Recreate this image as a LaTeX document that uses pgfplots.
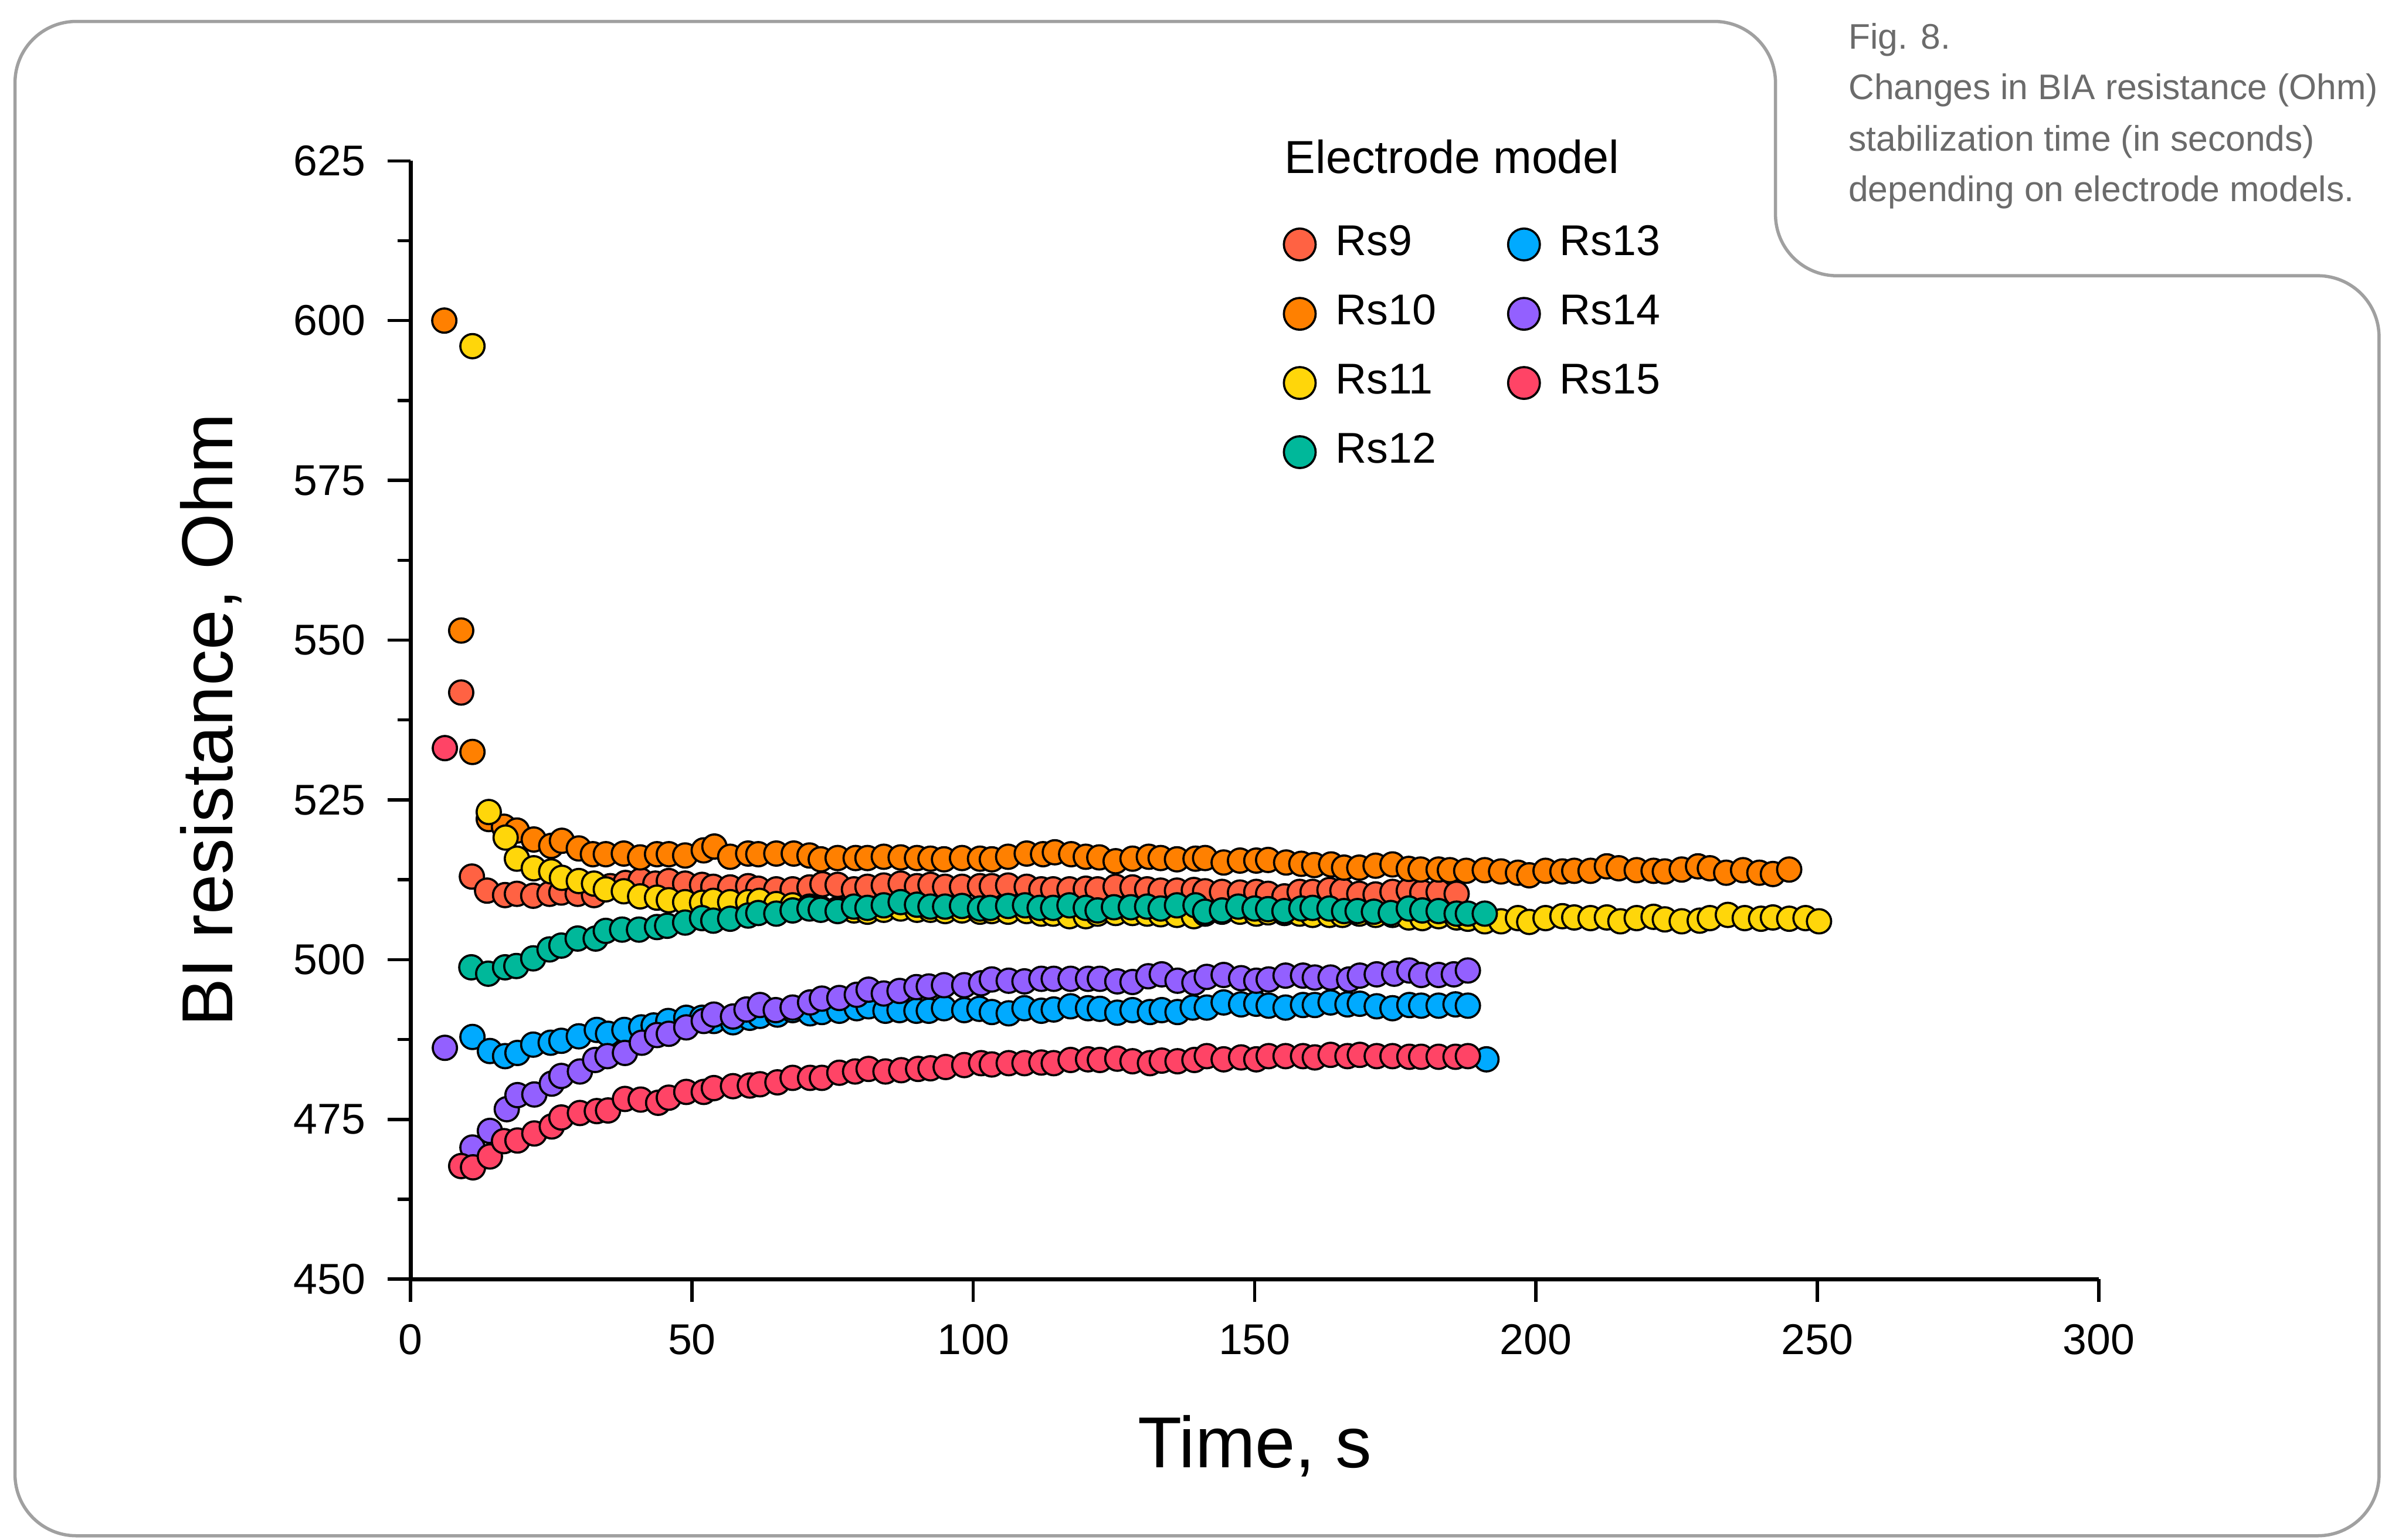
\documentclass[border=0pt]{standalone}
\usepackage{fontspec}
\setmainfont{Liberation Sans}
\usepackage{pgfplots}
\pgfplotsset{compat=1.18}
\definecolor{c9}{HTML}{FF6243}
\definecolor{c10}{HTML}{FF8000}
\definecolor{c11}{HTML}{FFD60A}
\definecolor{c12}{HTML}{00B89A}
\definecolor{c13}{HTML}{00AAFF}
\definecolor{c14}{HTML}{9360FF}
\definecolor{c15}{HTML}{FF4466}
\definecolor{framegray}{HTML}{A0A0A0}
\definecolor{capgray}{HTML}{6B6B6B}
\begin{document}
\begin{tikzpicture}[x=1cm,y=1cm]
\useasboundingbox (0,0) rectangle (15.68,10.05);
\draw[color=framegray, line width=0.6pt, rounded corners=0.4cm]
  (0.098,0.025) -- (0.098,9.91) -- (11.59,9.91) -- (11.59,8.25) -- (15.53,8.25) -- (15.53,0.025) -- cycle;
\begin{scope}[every node/.style={inner sep=0pt, anchor=base west, text=capgray, font=\fontsize{6.6}{7.9}\selectfont}]
\node at (12.06,9.732) {Fig. 8.};
\node at (12.06,9.401) {Changes in BIA resistance (Ohm)};
\node at (12.06,9.065) {stabilization time (in seconds)};
\node at (12.06,8.734) {depending on electrode models.};
\end{scope}
\node[inner sep=0pt, anchor=base west, font=\fontsize{8.6}{10}\selectfont] at (8.38,8.92) {Electrode model};
\begin{axis}[
  at={(2.68cm,1.70cm)}, anchor=south west,
  scale only axis, width=11.02cm, height=7.30cm,
  xmin=0, xmax=300, ymin=450, ymax=625,
  axis x line*=bottom, axis y line*=left,
  axis line style={line width=0.75pt, black},
  xtick={0,50,...,300}, ytick={450,475,...,625},
  minor y tick num=1,
  tick align=outside,
  major tick length=0.15cm, minor tick length=0.085cm,
  tick style={line width=0.6pt, black},
  /pgf/number format/assume math mode=true,
  /pgf/number format/1000 sep={},
  ticklabel style={font=\fontsize{8}{9.6}\selectfont},
  xticklabel style={yshift=-0.02cm},
  yticklabel style={xshift=-0.02cm},
  xlabel={Time, s},
  ylabel={BI resistance, Ohm},
  label style={font=\fontsize{13.4}{16}\selectfont},
  xlabel style={at={(axis description cs:0.5,-0.1685)}, anchor=base},
  ylabel style={at={(axis description cs:-0.1053,0.5)}, anchor=base},
  clip=false,
  legend columns=2,
  legend cell align=left,
  legend image code/.code={\draw[#1] plot coordinates {(0.11cm,0cm)};},
  legend style={draw=none, fill=none, inner sep=0pt, outer sep=0pt,
    at={(axis cs:155.2,614.9)}, anchor=north west,
    font=\fontsize{8}{9.6}\selectfont,
    nodes={inner sep=0pt},
    row sep=5.8pt, column sep=0.13cm,
    /tikz/every even column/.append style={column sep=0.47cm}},
  every axis plot/.append style={only marks, mark=*, mark size=2.25pt, forget plot},
]
\addplot[mark options={fill=c9, draw=black, line width=0.4pt}] coordinates {
(9.0,541.8) (10.9,513.0) (13.6,510.8) (16.8,510.1) (18.9,510.3) (21.8,510.0) (24.7,510.3) (26.8,510.5) (29.7,510.3) (32.6,510.1) (35.5,511.5) (38.2,512.0) (40.9,512.4) (43.5,511.9) (45.9,512.3) (48.8,511.9) (51.8,511.7) (53.8,511.4) (56.8,511.3) (60.0,511.5) (61.8,511.1) (65.0,511.0) (67.9,511.0) (70.9,511.3) (73.2,511.8) (75.9,511.7) (78.8,511.0) (81.2,511.4) (84.1,511.6) (87.1,511.9) (90.0,511.5) (92.4,511.7) (95.0,511.4) (98.0,511.4) (101.2,511.5) (103.3,511.5) (106.2,511.6) (109.5,511.4) (112.1,511.0) (114.2,511.0) (117.1,511.0) (120.0,511.1) (122.1,511.0) (125.3,511.4) (128.3,511.3) (130.9,511.0) (133.3,510.8) (136.2,510.8) (139.2,510.9) (141.2,510.7) (144.2,510.6) (147.4,510.5) (150.3,510.6) (152.4,510.3) (155.3,509.9) (158.0,510.6) (160.3,510.6) (163.3,510.9) (165.6,510.8) (168.6,510.3) (171.5,510.2) (174.5,510.6) (177.4,510.8) (179.8,510.5) (182.7,510.6) (185.9,510.3)
};
\addplot[mark options={fill=c10, draw=black, line width=0.4pt}] coordinates {
(6.0,600.0) (9.0,551.5) (11.0,532.5) (13.9,522.0) (16.6,520.8) (18.9,520.2) (21.9,518.8) (25.0,517.8) (26.9,518.6) (29.9,517.4) (32.4,516.5) (34.7,516.5) (37.9,516.6) (40.8,516.0) (43.8,516.5) (45.9,516.5) (48.8,516.3) (52.1,517.1) (54.0,517.7) (56.8,516.1) (60.0,516.6) (61.8,516.5) (65.0,516.6) (68.1,516.6) (70.9,516.3) (72.9,515.7) (75.9,515.9) (79.1,515.9) (81.2,515.9) (84.1,516.1) (87.1,516.0) (90.0,515.9) (92.4,515.8) (94.8,515.7) (98.0,515.9) (101.2,515.8) (103.3,515.7) (106.2,516.1) (109.5,516.6) (112.4,516.5) (114.5,516.8) (117.4,516.5) (120.0,516.1) (122.4,516.0) (125.3,515.4) (128.3,515.8) (131.2,516.1) (133.3,515.9) (136.2,515.7) (139.5,515.8) (141.2,515.9) (144.5,515.2) (147.4,515.5) (150.3,515.5) (152.4,515.6) (155.6,515.2) (158.3,515.0) (160.6,514.8) (163.6,514.9) (165.9,514.4) (168.6,514.4) (171.5,514.7) (174.5,514.9) (177.4,514.2) (179.5,514.1) (182.7,514.1) (184.7,514.0) (187.6,513.9) (190.9,514.0) (193.8,513.8) (196.8,513.6) (198.8,513.2) (201.7,513.9) (204.7,513.8) (206.8,513.9) (209.7,513.9) (212.6,514.6) (214.7,514.3) (217.9,514.0) (220.9,513.9) (222.9,513.8) (225.9,514.1) (228.8,514.6) (230.9,514.3) (233.8,513.6) (236.8,514.0) (239.7,513.6) (242.1,513.4) (245.0,514.1)
};
\addplot[mark options={fill=c11, draw=black, line width=0.4pt}] coordinates {
(11.0,596.0) (13.9,523.1) (16.9,519.1) (18.9,515.8) (21.9,514.3) (25.0,513.8) (26.9,512.8) (29.9,512.3) (32.6,511.9) (34.7,511.0) (37.9,510.7) (40.8,509.9) (43.8,509.7) (45.9,509.3) (48.8,509.0) (51.8,508.9) (53.8,509.2) (56.8,509.0) (60.0,509.0) (62.0,509.2) (65.0,508.7) (67.9,508.5) (70.9,508.3) (72.9,508.0) (75.9,507.9) (78.8,507.7) (81.2,507.5) (84.1,507.8) (87.1,508.0) (90.0,507.8) (92.4,507.8) (95.0,507.6) (98.0,507.7) (101.2,507.5) (103.3,507.6) (106.2,507.5) (109.5,507.6) (112.1,507.2) (114.2,507.2) (117.1,506.8) (120.0,506.8) (122.1,507.2) (125.3,507.3) (128.3,507.3) (130.9,507.2) (133.3,507.1) (136.2,507.0) (139.2,506.8) (141.2,507.2) (144.2,507.5) (147.4,507.5) (150.3,507.2) (152.4,507.4) (155.3,507.3) (158.0,507.2) (160.3,507.0) (163.3,507.0) (165.6,507.0) (168.6,507.2) (171.5,507.0) (174.5,507.0) (177.4,506.6) (179.8,506.5) (182.7,506.8) (185.9,506.6) (187.9,506.4) (190.9,506.0) (193.8,506.0) (196.8,506.5) (198.8,505.9) (201.7,506.5) (204.7,506.8) (206.8,506.6) (209.7,506.5) (212.6,506.6) (215.0,506.0) (217.9,506.5) (220.9,506.7) (222.9,506.3) (225.9,506.0) (229.1,506.1) (230.9,506.5) (234.1,507.0) (237.1,506.5) (240.0,506.4) (242.1,506.6) (245.0,506.4) (247.9,506.5) (250.3,506.0)
};
\addplot[mark options={fill=c12, draw=black, line width=0.4pt}] coordinates {
(10.8,498.8) (13.8,497.8) (16.8,498.8) (18.8,499.0) (21.8,500.2) (24.7,501.6) (26.8,502.2) (29.7,503.3) (32.9,503.3) (34.7,504.5) (37.6,504.7) (40.6,504.7) (43.8,505.1) (45.6,505.3) (48.8,505.8) (51.8,506.5) (53.8,506.1) (56.8,506.4) (60.0,506.9) (61.8,507.3) (65.0,507.2) (67.9,507.7) (70.9,508.0) (72.9,507.8) (75.9,507.6) (78.8,508.3) (81.2,508.1) (84.1,508.5) (87.1,509.0) (90.0,508.6) (92.4,508.3) (95.0,508.3) (98.0,508.4) (101.2,508.0) (103.0,508.1) (106.2,508.4) (109.2,508.5) (111.8,508.1) (114.2,508.1) (117.1,508.5) (120.0,508.1) (122.1,507.7) (125.0,508.2) (128.0,508.2) (130.9,508.3) (133.3,508.0) (136.2,508.5) (139.5,508.5) (141.2,507.5) (144.2,507.7) (147.1,508.3) (150.0,508.0) (152.4,507.9) (155.3,507.6) (158.3,508.0) (160.3,508.1) (163.3,508.0) (165.9,507.6) (168.3,507.6) (171.2,507.5) (174.2,507.3) (177.4,508.0) (179.8,507.7) (182.7,507.6) (185.9,507.2) (187.9,507.2) (190.9,507.2)
};
\addplot[mark options={fill=c13, draw=black, line width=0.4pt}] coordinates {
(11.0,487.9) (14.1,485.7) (16.8,484.9) (19.0,485.4) (21.8,486.7) (24.9,487.0) (26.8,487.3) (29.9,488.0) (33.1,489.0) (35.1,488.4) (38.0,489.0) (41.0,489.4) (43.2,489.7) (45.8,490.4) (49.0,490.9) (51.8,490.9) (53.9,490.4) (57.3,490.2) (60.3,490.9) (62.1,491.2) (65.2,491.4) (67.9,492.1) (71.0,491.6) (73.1,491.8) (76.2,492.0) (79.3,492.4) (81.4,492.7) (84.4,492.0) (86.9,492.1) (89.9,492.0) (92.1,492.0) (94.8,492.4) (98.4,492.1) (101.1,492.3) (103.3,491.8) (106.3,491.6) (109.1,492.4) (112.1,492.0) (114.3,492.2) (117.3,492.7) (120.4,492.4) (122.5,492.3) (125.6,491.7) (128.3,492.1) (131.4,491.8) (133.5,492.1) (136.3,491.8) (139.0,492.5) (141.5,492.5) (144.5,493.3) (147.6,493.0) (150.3,493.1) (152.5,492.8) (155.5,492.5) (158.6,492.9) (160.7,492.9) (163.5,493.3) (166.5,493.0) (168.7,493.1) (171.7,492.7) (174.5,492.4) (177.5,492.9) (179.6,492.8) (182.7,492.8) (185.7,493.0) (187.9,492.8) (191.2,484.4)
};
\addplot[mark options={fill=c14, draw=black, line width=0.4pt}] coordinates {
(6.1,486.2) (11.0,470.6) (14.1,473.2) (17.1,476.6) (19.0,478.8) (22.0,478.9) (25.1,480.6) (26.8,481.8) (30.1,482.5) (32.8,484.3) (35.0,484.9) (38.1,485.4) (41.1,487.0) (43.8,488.2) (45.9,488.4) (49.0,489.4) (52.1,490.4) (53.9,491.4) (57.3,491.1) (59.7,492.2) (62.1,492.9) (64.9,492.1) (67.9,492.5) (71.0,493.3) (73.1,493.9) (76.2,494.0) (79.3,494.5) (81.4,495.3) (84.1,494.7) (86.9,495.1) (89.9,495.7) (92.1,495.8) (94.8,496.0) (98.4,496.0) (101.4,496.3) (103.3,496.9) (106.3,496.7) (109.1,496.6) (112.1,497.0) (114.3,497.0) (117.3,497.0) (120.4,497.0) (122.5,497.0) (125.6,496.6) (128.3,496.5) (131.1,497.4) (133.5,497.7) (136.3,496.7) (139.3,496.4) (141.5,497.3) (144.5,497.6) (147.6,497.1) (150.3,496.7) (152.5,496.9) (155.5,497.5) (158.6,497.5) (160.7,497.2) (163.5,497.2) (166.8,496.9) (168.7,497.5) (171.7,497.7) (174.8,497.8) (177.5,498.3) (179.6,497.6) (182.7,497.6) (185.4,497.7) (187.9,498.3)
};
\addplot[mark options={fill=c15, draw=black, line width=0.4pt}] coordinates {
(6.1,533.1) (9.0,467.7) (11.1,467.5) (14.1,469.2) (16.6,471.6) (19.0,471.7) (22.0,472.8) (25.1,473.9) (26.8,475.3) (30.1,476.0) (33.1,476.3) (35.1,476.4) (38.1,478.2) (40.9,478.1) (44.0,477.6) (45.9,478.4) (49.0,479.3) (52.1,479.3) (53.9,479.9) (57.3,480.2) (60.3,480.3) (62.1,480.5) (65.2,480.8) (67.9,481.5) (71.0,481.5) (73.1,481.5) (76.2,482.3) (79.0,482.5) (81.4,482.9) (84.4,482.5) (87.2,482.7) (90.2,482.9) (92.4,483.0) (95.1,483.2) (98.4,483.5) (101.4,483.8) (103.3,483.6) (106.3,483.8) (109.1,483.8) (112.1,483.9) (114.3,483.8) (117.3,484.3) (120.4,484.4) (122.5,484.3) (125.6,484.5) (128.3,484.1) (131.4,483.8) (133.5,484.2) (136.3,484.1) (139.3,484.3) (141.5,484.9) (144.5,484.4) (147.6,484.7) (150.3,484.4) (152.5,484.9) (155.5,484.9) (158.6,484.9) (160.7,484.7) (163.5,485.1) (166.5,484.9) (168.7,485.1) (171.7,484.9) (174.5,484.9) (177.5,484.8) (179.6,484.8) (182.7,484.8) (185.7,484.8) (187.9,484.9)
};
\addlegendimage{mark=*, mark size=2.95pt, mark options={fill=c9, draw=black, line width=0.4pt}}
\addlegendentry{Rs9}
\addlegendimage{mark=*, mark size=2.95pt, mark options={fill=c13, draw=black, line width=0.4pt}}
\addlegendentry{Rs13}
\addlegendimage{mark=*, mark size=2.95pt, mark options={fill=c10, draw=black, line width=0.4pt}}
\addlegendentry{Rs10}
\addlegendimage{mark=*, mark size=2.95pt, mark options={fill=c14, draw=black, line width=0.4pt}}
\addlegendentry{Rs14}
\addlegendimage{mark=*, mark size=2.95pt, mark options={fill=c11, draw=black, line width=0.4pt}}
\addlegendentry{Rs11}
\addlegendimage{mark=*, mark size=2.95pt, mark options={fill=c15, draw=black, line width=0.4pt}}
\addlegendentry{Rs15}
\addlegendimage{mark=*, mark size=2.95pt, mark options={fill=c12, draw=black, line width=0.4pt}}
\addlegendentry{Rs12}
\end{axis}
\end{tikzpicture}
\end{document}
